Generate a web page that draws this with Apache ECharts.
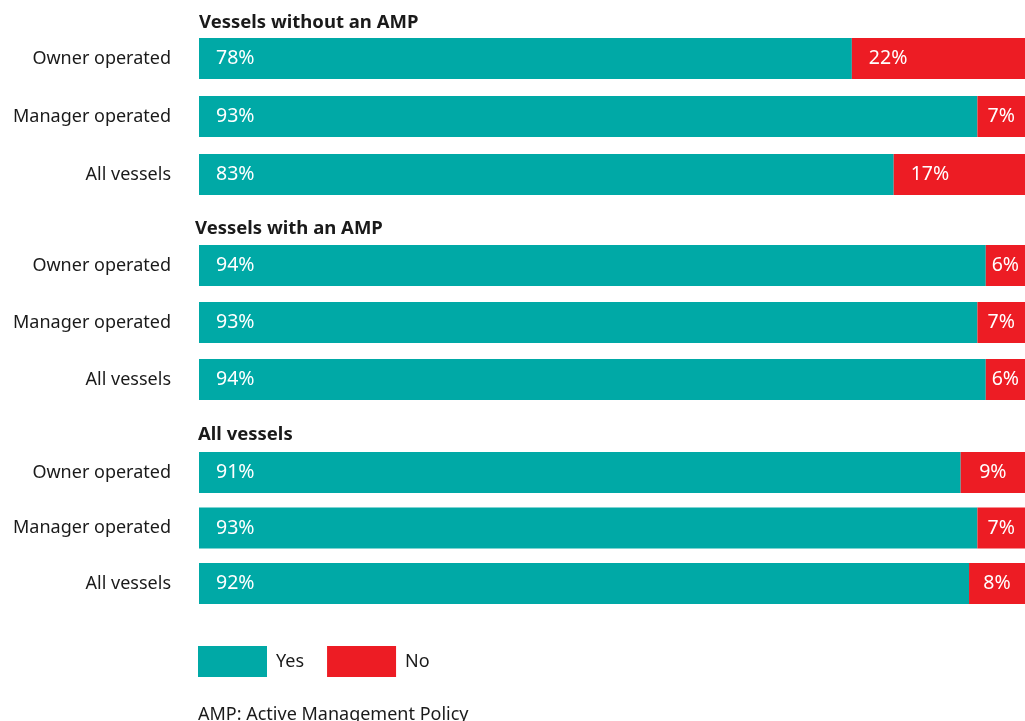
<!DOCTYPE html>
<html>
<head>
<meta charset="utf-8">
<script src="https://cdn.jsdelivr.net/npm/echarts@6/dist/echarts.min.js"></script>
<style>
html,body{margin:0;padding:0;background:#fff;}
#chart{width:1025px;height:721px;}
</style>
</head>
<body>
<div id="chart"></div>
<script>
const categories = ['Owner operated', 'Manager operated', 'All vessels'];
const groupTitles = ['Vessels without an AMP', 'Vessels with an AMP', 'All vessels'];
const yesWithoutAMP = [78, 93, 83];
const noWithoutAMP = [22, 7, 17];
const yesWithAMP = [94, 93, 94];
const noWithAMP = [6, 7, 6];
const yesAllVessels = [91, 93, 92];
const noAllVessels = [9, 7, 8];
const legendNames = ['Yes', 'No'];
const footnote = 'AMP: Active Management Policy';

const FONT = 'Noto Sans';
const TEAL = '#00a9a6';
const RED = '#ed1c24';
const TEXT = '#1a1a1a';
const GRID_LEFT = 199;
const GRID_WIDTH = 837;
const VISIBLE_RIGHT = 1025;

const grids = [
  {left: GRID_LEFT, width: GRID_WIDTH, top: 29.5, height: 174, outerBoundsMode: 'none', containLabel: false},
  {left: GRID_LEFT, width: GRID_WIDTH, top: 237, height: 171, outerBoundsMode: 'none', containLabel: false},
  {left: GRID_LEFT, width: GRID_WIDTH, top: 444.75, height: 166.5, outerBoundsMode: 'none', containLabel: false}
];
const groups = [
  [yesWithoutAMP, noWithoutAMP],
  [yesWithAMP, noWithAMP],
  [yesAllVessels, noAllVessels]
];
const titleY = [20, 226.5, 432.5];
const titleX = [199, 195, 198];

const xAxes = grids.map((g, i) => ({
  gridIndex: i, type: 'value', min: 0, max: 100, show: false
}));
const yAxes = grids.map((g, i) => ({
  gridIndex: i, type: 'category', data: categories, inverse: true,
  axisLine: {show: false}, axisTick: {show: false}, splitLine: {show: false},
  axisLabel: {margin: 28, fontFamily: FONT, fontSize: 18, color: TEXT}
}));

function noLabel(v) {
  const barPx = v / 100 * GRID_WIDTH;
  const visible = barPx - (GRID_LEFT + GRID_WIDTH - VISIBLE_RIGHT);
  if (visible < 80) {
    return {position: [visible / 2, '50%'], align: 'center', verticalAlign: 'middle'};
  }
  return {position: [17, '50%'], align: 'left', verticalAlign: 'middle'};
}

const series = [];
groups.forEach((pair, gi) => {
  series.push({
    name: legendNames[0], type: 'bar', stack: 's' + gi,
    xAxisIndex: gi, yAxisIndex: gi, barWidth: 41,
    itemStyle: {color: TEAL},
    label: {show: true, position: [17, '50%'], align: 'left', verticalAlign: 'middle',
      formatter: '{c}%', color: '#fff', fontFamily: FONT, fontSize: 19.5},
    data: pair[0], silent: true
  });
  series.push({
    name: legendNames[1], type: 'bar', stack: 's' + gi,
    xAxisIndex: gi, yAxisIndex: gi, barWidth: 41,
    itemStyle: {color: RED},
    label: {show: true, formatter: '{c}%', color: '#fff', fontFamily: FONT, fontSize: 19.5},
    data: pair[1].map(v => ({value: v, label: noLabel(v)})), silent: true
  });
});

const graphic = groupTitles.map((t, i) => ({
  type: 'text', left: titleX[i], top: titleY[i] - 7,
  style: {text: t, fontFamily: FONT, fontWeight: 'bold', fontSize: 18.5, fill: TEXT}
}));
graphic.push({
  type: 'text', left: 198, top: 706,
  style: {text: footnote, fontFamily: FONT, fontSize: 18, fill: TEXT}
});

const chart = echarts.init(document.getElementById('chart'), null, {renderer: 'canvas'});
chart.setOption({
  animation: false,
  grid: grids,
  xAxis: xAxes,
  yAxis: yAxes,
  legend: {
    data: legendNames, left: 198, top: 646, padding: 0, itemWidth: 69, itemHeight: 31, itemGap: 23,
    icon: 'rect', selectedMode: false,
    textStyle: {fontFamily: FONT, fontSize: 18, color: TEXT, padding: [0, 0, 0, 4]}
  },
  graphic: graphic,
  series: series
});
</script>
</body>
</html>
